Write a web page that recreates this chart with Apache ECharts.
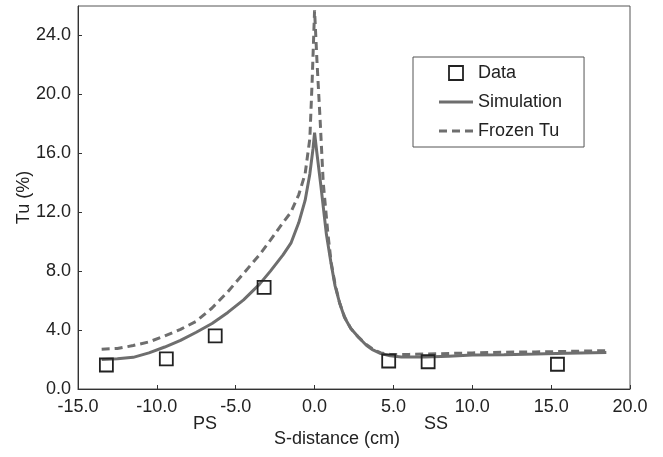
<!DOCTYPE html>
<html>
<head>
<meta charset="utf-8">
<script src="https://cdn.jsdelivr.net/npm/echarts@6/dist/echarts.min.js"></script>
<style>
html,body{margin:0;padding:0;background:#fff;}
#chart{width:663px;height:457px;}
</style>
</head>
<body>
<div id="chart"></div>
<script>
// Measured data (S-distance cm, Tu %)
var dataX = [-13.2, -9.4, -6.3, -3.2, 4.7, 7.2, 15.4];
var dataY = [1.63, 2.05, 3.6, 6.9, 1.9, 1.85, 1.68];

var simX = [-13.5, -12.5, -11.5, -10.5, -9.5, -8.5, -7.5, -6.5, -5.5, -4.5, -3.5, -2.8, -2.0, -1.5, -1.0, -0.6, -0.3, -0.1, 0.0, 0.15, 0.4, 0.75, 1.05, 1.3, 1.6, 1.9, 2.3, 2.8, 3.3, 3.7, 4.2, 4.8, 5.5, 7.0, 8.5, 10.0, 12.0, 14.0, 16.0, 18.5];
var simY = [2.0, 2.05, 2.15, 2.45, 2.85, 3.3, 3.85, 4.45, 5.2, 6.05, 7.1, 8.0, 9.1, 9.9, 11.3, 12.8, 14.6, 16.3, 17.4, 16.0, 13.8, 10.5, 8.5, 7.0, 5.8, 4.85, 4.1, 3.5, 2.95, 2.65, 2.4, 2.25, 2.18, 2.18, 2.22, 2.3, 2.33, 2.37, 2.42, 2.47];

var frozenX = [-13.5, -12.5, -11.5, -10.5, -9.5, -8.5, -7.5, -6.5, -5.5, -4.5, -3.5, -2.8, -2.0, -1.5, -1.0, -0.6, -0.3, -0.15, 0.0, 0.15, 0.35, 0.55, 0.85, 1.05, 1.3, 1.6, 1.9, 2.3, 2.8, 3.3, 3.7, 4.2, 4.8, 6.0, 8.0, 10.0, 12.0, 14.0, 16.0, 18.5];
var frozenY = [2.7, 2.75, 2.95, 3.2, 3.6, 4.05, 4.6, 5.5, 6.6, 7.85, 9.1, 10.1, 11.3, 12.0, 13.2, 14.6, 17.0, 21.0, 25.7, 22.3, 18.3, 14.0, 10.5, 8.6, 7.1, 5.8, 4.9, 4.1, 3.5, 3.0, 2.7, 2.45, 2.35, 2.35, 2.4, 2.45, 2.5, 2.52, 2.55, 2.6];

var seriesNames = ['Data', 'Simulation', 'Frozen Tu'];
var sideLabels = ['PS', 'SS'];

function zip(xs, ys) { return xs.map(function (x, i) { return [x, ys[i]]; }); }

var FONT = 'Liberation Sans, Arial, sans-serif';
var GRAY = '#6e6e6e';
var chart = echarts.init(document.getElementById('chart'), null, {renderer: 'canvas'});
var fmt = function (v) { return v.toFixed(1); };

chart.setOption({
  animation: false,
  backgroundColor: '#fff',
  grid: {left: 78, right: 33, top: 6, bottom: 68, show: true, borderColor: '#555', borderWidth: 1},
  xAxis: {
    type: 'value', min: -15, max: 20, interval: 5,
    name: 'S-distance (cm)', nameLocation: 'middle', nameGap: 41,
    nameTextStyle: {fontSize: 18, color: '#222', fontFamily: FONT, padding: [0, 34, 0, 0]},
    axisLine: {onZero: false, lineStyle: {color: '#333', width: 1}},
    axisTick: {inside: true, length: 4, lineStyle: {color: '#333'}},
    axisLabel: {formatter: fmt, fontSize: 18, color: '#222', fontFamily: FONT, margin: 9},
    splitLine: {show: false}
  },
  yAxis: {
    type: 'value', min: 0, max: 26, interval: 4,
    name: 'Tu (%)', nameLocation: 'middle', nameGap: 45, nameMoveOverlap: false,
    nameTextStyle: {fontSize: 18, color: '#222', fontFamily: FONT},
    axisLine: {show: true, onZero: false, lineStyle: {color: '#333', width: 1}},
    axisTick: {show: true, inside: true, length: 4, lineStyle: {color: '#333'}},
    axisLabel: {formatter: fmt, fontSize: 18, color: '#222', fontFamily: FONT, margin: 7, showMaxLabel: false},
    splitLine: {show: false}
  },
  legend: {
    left: 413, top: 57,
    orient: 'vertical',
    itemWidth: 34, itemHeight: 14, itemGap: 11,
    padding: [7, 22, 7, 26],
    borderColor: '#555', borderWidth: 1, backgroundColor: '#fff',
    textStyle: {fontSize: 18, color: '#222', fontFamily: FONT},
    data: [
      {name: seriesNames[0], icon: 'path://M0,0H10V10H0Z',
       itemStyle: {color: 'rgba(0,0,0,0)', borderColor: '#222', borderWidth: 1.8}},
      {name: seriesNames[1], icon: 'path://M0,0H34V3H0Z',
       itemStyle: {color: GRAY, borderWidth: 0}},
      {name: seriesNames[2], icon: 'path://M0,0H8V3H0Z M13,0H21V3H13Z M26,0H34V3H26Z',
       itemStyle: {color: GRAY, borderWidth: 0}}
    ]
  },
  graphic: [
    {type: 'text', left: 193, top: 415, style: {text: sideLabels[0], fontSize: 18, fill: '#222', fontFamily: FONT}},
    {type: 'text', left: 424, top: 415, style: {text: sideLabels[1], fontSize: 18, fill: '#222', fontFamily: FONT}}
  ],
  series: [
    {
      name: seriesNames[0], type: 'scatter', z: 5,
      symbol: 'rect', symbolSize: 13,
      itemStyle: {color: 'rgba(0,0,0,0)', borderColor: '#222', borderWidth: 1.8, opacity: 1},
      data: zip(dataX, dataY)
    },
    {
      name: seriesNames[1], type: 'line', symbol: 'none', z: 3,
      lineStyle: {color: GRAY, width: 3},
      itemStyle: {color: GRAY},
      data: zip(simX, simY)
    },
    {
      name: seriesNames[2], type: 'line', symbol: 'none', z: 2,
      lineStyle: {color: GRAY, width: 3, type: [8, 5]},
      itemStyle: {color: GRAY},
      data: zip(frozenX, frozenY)
    }
  ]
});
</script>
</body>
</html>
